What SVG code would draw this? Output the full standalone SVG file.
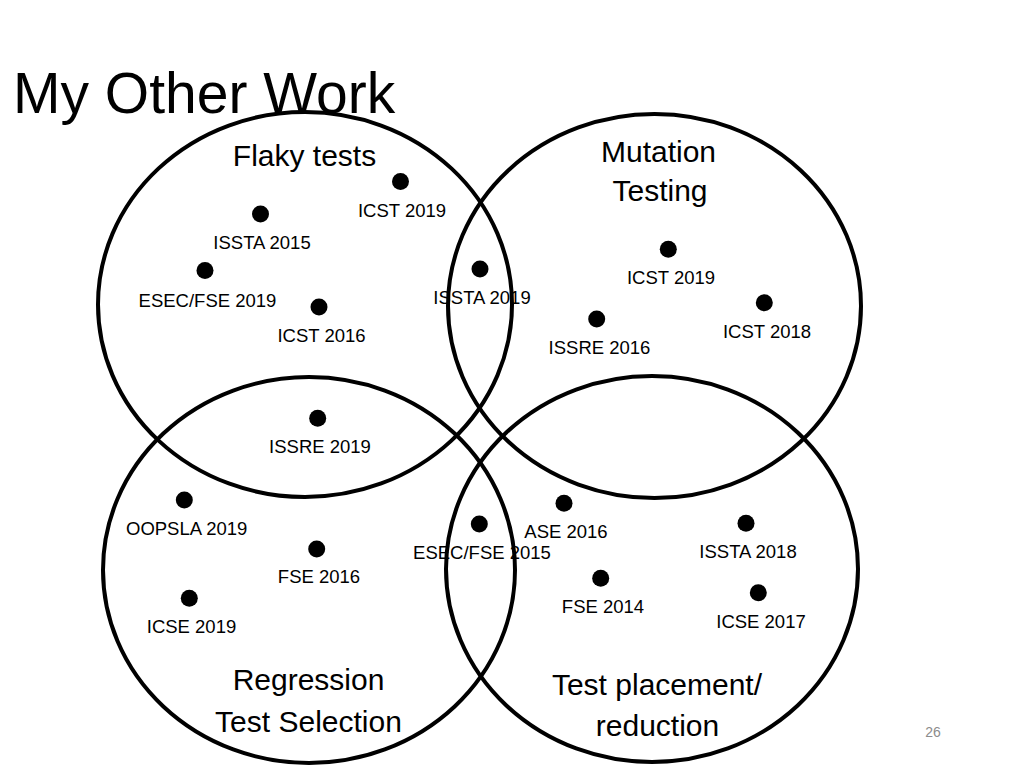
<svg xmlns="http://www.w3.org/2000/svg" width="1024" height="768" viewBox="0 0 1024 768">
<style>
.set{fill:none;stroke:#000;stroke-width:4}
.dot{fill:#000}
.lbl{font-family:"Liberation Sans",Arial,sans-serif;font-size:18.5px;fill:#000;text-anchor:middle}
.big{font-family:"Liberation Sans",Arial,sans-serif;font-size:30px;fill:#000;text-anchor:middle}
.title{font-family:"Liberation Sans",Arial,sans-serif;font-size:57px;fill:#000}
.pg{font-family:"Liberation Sans",Arial,sans-serif;font-size:14px;fill:#8c8c8c;text-anchor:middle}
</style>
<rect width="1024" height="768" fill="#fff"/>
<text class="title" x="13" y="113">My Other Work</text>
<g id="pubs">
<g id="p-icst2019a"><circle class="dot" cx="400.5" cy="181.5" r="8.5"/><text class="lbl" x="402" y="217">ICST 2019</text></g>
<g id="p-issta2015"><circle class="dot" cx="260.5" cy="214" r="8.5"/><text class="lbl" x="262" y="249">ISSTA 2015</text></g>
<g id="p-esecfse2019"><circle class="dot" cx="205" cy="270.5" r="8.5"/><text class="lbl" x="207.5" y="306.5">ESEC/FSE 2019</text></g>
<g id="p-icst2016"><circle class="dot" cx="319" cy="307" r="8.5"/><text class="lbl" x="321.5" y="342">ICST 2016</text></g>
<g id="p-issta2019"><circle class="dot" cx="480" cy="269" r="8.5"/><text class="lbl" x="482" y="304">ISSTA 2019</text></g>
<g id="p-icst2019b"><circle class="dot" cx="668.3" cy="249.3" r="8.5"/><text class="lbl" x="671" y="284">ICST 2019</text></g>
<g id="p-icst2018"><circle class="dot" cx="764.3" cy="302.7" r="8.5"/><text class="lbl" x="767" y="338.3">ICST 2018</text></g>
<g id="p-issre2016"><circle class="dot" cx="596.7" cy="319" r="8.5"/><text class="lbl" x="599.5" y="354.3">ISSRE 2016</text></g>
<g id="p-issre2019"><circle class="dot" cx="317.7" cy="418.3" r="8.5"/><text class="lbl" x="320" y="453.3">ISSRE 2019</text></g>
<g id="p-oopsla2019"><circle class="dot" cx="184.3" cy="500" r="8.5"/><text class="lbl" x="186.7" y="535">OOPSLA 2019</text></g>
<g id="p-fse2016"><circle class="dot" cx="316.7" cy="549" r="8.5"/><text class="lbl" x="319" y="583.3">FSE 2016</text></g>
<g id="p-icse2019"><circle class="dot" cx="189.3" cy="598.3" r="8.5"/><text class="lbl" x="191.5" y="633.3">ICSE 2019</text></g>
<g id="p-esecfse2015"><circle class="dot" cx="479.3" cy="524" r="8.5"/><text class="lbl" x="482" y="559">ESEC/FSE 2015</text></g>
<g id="p-ase2016"><circle class="dot" cx="564" cy="503.3" r="8.5"/><text class="lbl" x="566" y="538.3">ASE 2016</text></g>
<g id="p-issta2018"><circle class="dot" cx="746" cy="523.3" r="8.5"/><text class="lbl" x="748" y="558.3">ISSTA 2018</text></g>
<g id="p-fse2014"><circle class="dot" cx="600.7" cy="578.3" r="8.5"/><text class="lbl" x="603" y="613.3">FSE 2014</text></g>
<g id="p-icse2017"><circle class="dot" cx="758.3" cy="592.7" r="8.5"/><text class="lbl" x="761" y="627.7">ICSE 2017</text></g>
</g>
<g id="set-flaky"><ellipse class="set" cx="305" cy="304.5" rx="207" ry="192.5"/><text class="big" x="304.5" y="166">Flaky tests</text></g>
<g id="set-mutation"><ellipse class="set" cx="654.5" cy="306" rx="206.5" ry="192"/><text class="big" x="658.5" y="162">Mutation</text><text class="big" x="660" y="201">Testing</text></g>
<g id="set-rts"><ellipse class="set" cx="309" cy="570" rx="206" ry="193"/><text class="big" x="308.5" y="690">Regression</text><text class="big" x="308.5" y="731.5">Test Selection</text></g>
<g id="set-placement"><ellipse class="set" cx="652" cy="569" rx="206" ry="193"/><text class="big" x="657" y="695">Test placement/</text><text class="big" x="657.5" y="736">reduction</text></g>
<g id="connectors"/>
<text class="pg" x="933" y="737">26</text>
</svg>
